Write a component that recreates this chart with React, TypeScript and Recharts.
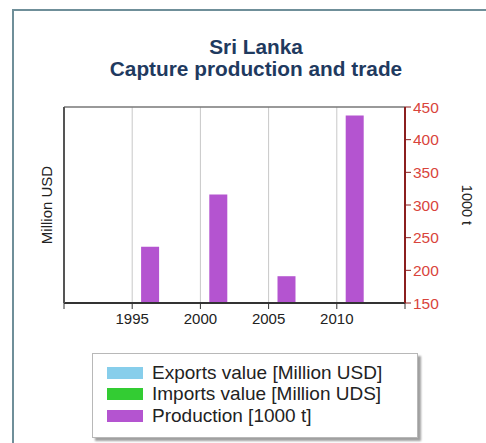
import React from "react";
import {
  ComposedChart,
  Bar,
  XAxis,
  YAxis,
  CartesianGrid,
  Legend,
  ReferenceLine,
} from "recharts";

// values
const years = [1995, 2000, 2005, 2010];
const exportsValue: (number | null)[] = [null, null, null, null];
const importsValue: (number | null)[] = [null, null, null, null];
const production = [236, 316, 191, 437];

const xTicks = [1990, 1995, 2000, 2005, 2010, 2015];
const rightTicks = [150, 200, 250, 300, 350, 400, 450];

const data = years.map((year, i) => ({
  year,
  exports: exportsValue[i],
  imports: importsValue[i],
  production: production[i],
}));

const FONT = "'Liberation Sans', Arial, sans-serif";

const LegendBox = (props: any) => {
  const items = props.payload || [];
  return (
    <div
      style={{
        border: "1px solid #b8b8b8",
        boxShadow: "3px 3px 2px #a0a0a0",
        background: "#fff",
        padding: "8px 0 0 14px",
        boxSizing: "border-box",
        width: 326,
        height: 85,
        fontFamily: FONT,
        fontSize: 19,
        color: "#222",
      }}
    >
      {items.map((it: any) => (
        <div key={it.value} style={{ display: "flex", alignItems: "center", height: 21.5 }}>
          <span style={{ width: 36, height: 12, background: it.color, marginRight: 9 }} />
          <span>{it.value}</span>
        </div>
      ))}
    </div>
  );
};

export default function App() {
  return (
    <div
      style={{
        position: "absolute",
        left: 0,
        top: 0,
        width: 486,
        height: 443,
        overflow: "hidden",
        background: "#fff",
      }}
    >
      <div
        style={{
          position: "absolute",
          left: 12,
          top: 9,
          width: 474,
          height: 434,
          boxSizing: "border-box",
          borderLeft: "2px solid #6f8f99",
          borderTop: "2px solid #6f8f99",
        }}
      />
      <div
        style={{
          position: "absolute",
          left: 0,
          top: 36,
          width: 512,
          textAlign: "center",
          fontFamily: FONT,
          fontWeight: "bold",
          fontSize: 20.8,
          lineHeight: "22px",
          color: "#1f3a5f",
        }}
      >
        <div>Sri Lanka</div>
        <div>Capture production and trade</div>
      </div>
      <div style={{ position: "absolute", left: 0, top: 0 }}>
        <ComposedChart
          width={486}
          height={443}
          data={data}
          margin={{ top: 107, right: 11, bottom: 110, left: 44 }}
          barGap={0}
        >
          <CartesianGrid horizontal={false} stroke="#c8c8c8" />
          <XAxis
            dataKey="year"
            type="number"
            domain={[1990, 2015]}
            ticks={xTicks}
            tickFormatter={(v) => (v === 1990 || v === 2015 ? "" : String(v))}
            axisLine={{ stroke: "#333", strokeWidth: 2 }}
            tickLine={{ stroke: "#333" }}
            tickSize={6}
            height={30}
            tick={{ fill: "#222", fontSize: 15, fontFamily: FONT, dy: 2 }}
          />
          <YAxis
            yAxisId="left"
            domain={[0, 1]}
            tick={false}
            tickLine={false}
            width={20}
            axisLine={{ stroke: "#555", strokeWidth: 2 }}
            label={{
              value: "Million USD",
              angle: -90,
              position: "center",
              dx: -7,
              style: { fill: "#222", fontSize: 15, fontFamily: FONT },
            }}
          />
          <YAxis
            yAxisId="right"
            orientation="right"
            domain={[150, 450]}
            ticks={rightTicks}
            width={70}
            axisLine={{ stroke: "#8b1f1f", strokeWidth: 2 }}
            tickLine={{ stroke: "#8b1f1f" }}
            tickSize={6}
            tick={{ fill: "#d9443c", fontSize: 15.5, fontFamily: FONT }}
            label={{
              value: "1000 t",
              angle: 90,
              position: "center",
              dx: 27,
              style: { fill: "#222", fontSize: 14.5, fontFamily: FONT },
            }}
          />
          <ReferenceLine yAxisId="right" y={450} stroke="#777" strokeWidth={1.5} />
          <Legend
            layout="vertical"
            align="center"
            verticalAlign="middle"
            content={<LegendBox />}
            wrapperStyle={{ left: 92, top: 353, width: 326, height: 85 }}
          />
          <Bar
            yAxisId="left"
            dataKey="exports"
            name="Exports value [Million USD]"
            fill="#87ceeb"
            barSize={18}
            isAnimationActive={false}
          />
          <Bar
            yAxisId="left"
            dataKey="imports"
            name="Imports value [Million UDS]"
            fill="#33cc33"
            barSize={18}
            isAnimationActive={false}
          />
          <Bar
            yAxisId="right"
            dataKey="production"
            name="Production [1000 t]"
            fill="#b454d0"
            barSize={18}
            isAnimationActive={false}
          />
        </ComposedChart>
      </div>
    </div>
  );
}
